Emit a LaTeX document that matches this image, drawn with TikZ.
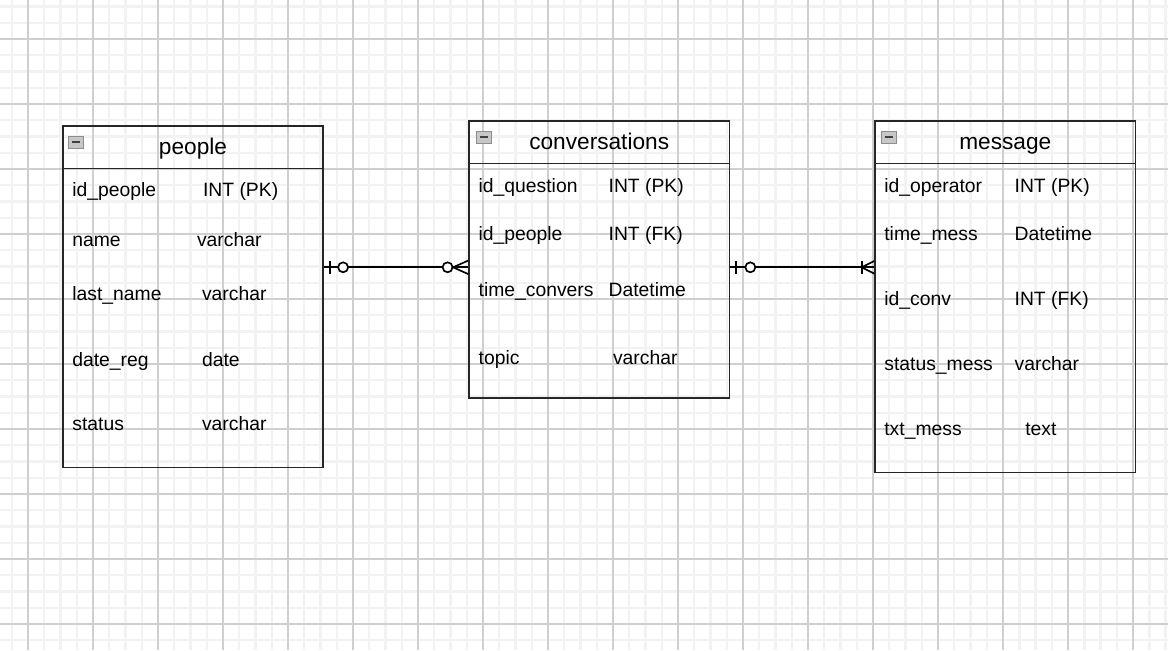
\documentclass[tikz,border=0pt]{standalone}
\usepackage{fontspec}
\setmainfont{Liberation Sans}
\usetikzlibrary{positioning, calc}

\begin{document}
\begin{tikzpicture}[
        x=0.02cm, y=-0.02cm,
        minorgrid/.style={black!5, line width=1.4pt},
        majorgrid/.style={black!19, line width=0.6pt},
        entity/.style={draw=black!85, line width=1pt, minimum width=5.21cm, inner sep=0pt},
        header/.style={draw=black!85, line width=1pt, minimum width=5.21cm, minimum height=0.85cm,
            anchor=north, font=\fontsize{12.9}{15}\selectfont, text height=9.7pt, text depth=1pt},
        field/.style={anchor=base west, inner sep=0pt, font=\fontsize{11}{13}\selectfont},
        icon/.style={draw=black!45, fill=black!22, line width=0.5pt},
        rel/.style={draw=black, line width=0.95pt}
    ]

    \useasboundingbox (0,0) rectangle (1168,650);

    % Grid
    \fill[white] (0,0) rectangle (1168,650);
    \foreach \i in {0,...,74} \draw[minorgrid] ({-37+16.25*\i},0) -- ++(0,650);
    \foreach \i in {0,...,41} \draw[minorgrid] (0,{-26+16.25*\i}) -- ++(1168,0);
    \foreach \i in {0,...,17} \draw[majorgrid] ({28+65*\i},0) -- ++(0,650);
    \foreach \i in {0,...,9} \draw[majorgrid] (0,{39+65*\i}) -- ++(1168,0);

    % Tables
    \node[entity, minimum height=6.83cm] (people) at (193,296.7) {};
    \node[entity, minimum height=5.54cm] (conv) at (599.2,259.5) {};
    \node[entity, minimum height=7.03cm] (mess) at (1005.3,296.7) {};

    \node[header] (people-h) at (people.north) {people};
    \node[header] (conv-h) at (conv.north) {conversations};
    \node[header] (mess-h) at (mess.north) {message};

    \foreach \x/\y in {68.3/136, 476/131, 881/131} {
        \draw[icon] (\x,\y) rectangle ++(15,12);
        \draw[black!75, line width=1pt] ({\x+3.5},{\y+6}) -- ++(8,0);
    }

    % Fields
    \foreach \y/\n/\tx/\t [count=\k] in {196.7/id\_people/202.7/INT (PK), 246/name/196.7/varchar,
        300.7/last\_name/201.7/varchar, 366/date\_reg/201.7/date, 430/status/201.7/varchar} {
        \node[field] (people-\k-1) at (72,\y) {\n};
        \node[field] (people-\k-2) at (\tx,\y) {\t};
    }
    \foreach \y/\n/\tx/\t [count=\k] in {192.7/id\_question/608.3/INT (PK), 240.7/id\_people/608.3/INT (FK),
        296.7/time\_convers/608.3/Datetime, 364/topic/612.7/varchar} {
        \node[field] (conv-\k-1) at (478.3,\y) {\n};
        \node[field] (conv-\k-2) at (\tx,\y) {\t};
    }
    \foreach \y/\n/\tx/\t [count=\k] in {192.7/id\_operator/1014.3/INT (PK), 240.7/time\_mess/1014.3/Datetime,
        305.7/id\_conv/1014.3/INT (FK), 370.7/status\_mess/1014.3/varchar, 435.3/txt\_mess/1025/text} {
        \node[field] (mess-\k-1) at (884,\y) {\n};
        \node[field] (mess-\k-2) at (\tx,\y) {\t};
    }

    % Relations
    \coordinate (r1) at (0,267.3);
    \coordinate (pc-a) at (people.east |- r1);
    \coordinate (pc-b) at (conv.west |- r1);
    \coordinate (cm-a) at (conv.east |- r1);
    \coordinate (cm-b) at (mess.west |- r1);

    \draw[rel] (pc-a) -- (pc-b);
    \draw[rel] ($(pc-a)+(6,-6.5)$) -- ++(0,13);
    \draw[rel, fill=white] ($(pc-a)+(19,0)$) circle[radius=0.1cm];
    \draw[rel, fill=white] ($(pc-b)+(-20.5,0)$) circle[radius=0.1cm];
    \draw[rel] ($(pc-b)+(0,-6.7)$) -- ($(pc-b)+(-15,0)$) -- ($(pc-b)+(0,6.7)$);

    \draw[rel] (cm-a) -- (cm-b);
    \draw[rel] ($(cm-a)+(6,-6.5)$) -- ++(0,13);
    \draw[rel, fill=white] ($(cm-a)+(20,0)$) circle[radius=0.1cm];
    \draw[rel] ($(cm-b)+(-12.5,-6.5)$) -- ++(0,13);
    \draw[rel] ($(cm-b)+(0,-6.3)$) -- ($(cm-b)+(-12.5,0)$) -- ($(cm-b)+(0,6.3)$);

\end{tikzpicture}
\end{document}
